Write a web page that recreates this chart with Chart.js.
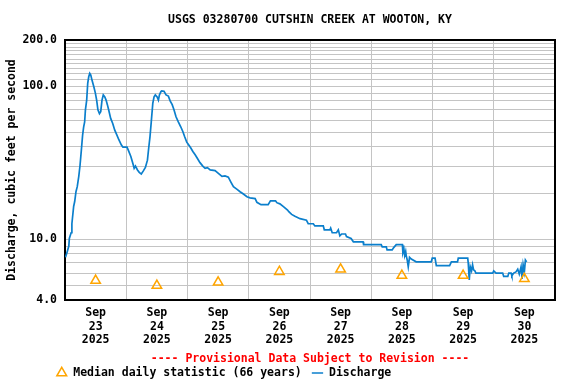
<!DOCTYPE html>
<html>
<head>
<meta charset="utf-8">
<script src="https://cdn.jsdelivr.net/npm/chart.js@4.4.1/dist/chart.umd.min.js"></script>
<style>
  html, body { margin: 0; padding: 0; background: #fff; }
  #wrap { width: 576px; height: 384px; }
</style>
</head>
<body>
<div id="wrap"><canvas id="chart" width="576" height="384"></canvas></div>
<script>
// hours since Sep 23 2025 00:00
const dischargeHours = [0.2, 0.9, 1.5, 1.7, 2.4, 2.7, 3.4, 3.8, 4.3, 4.8, 5.4, 5.9, 6.4, 6.9, 7.3, 7.7, 8.0, 8.5, 8.9, 9.3,
  9.7, 10.1, 10.6, 11.3, 11.9, 12.4, 12.9, 13.5, 14.0, 14.5, 15.0, 15.6, 16.1, 16.6, 17.1, 17.9, 18.7, 19.5, 20.3, 21.1,
  22.1, 22.7, 24.3, 25.0, 25.8, 26.6, 27.1, 27.6, 28.4, 29.1, 29.9, 30.7, 31.5, 32.3, 32.8, 33.3, 33.8, 34.4, 34.9, 35.4,
  36.1, 36.6, 37.0, 37.6, 37.9, 38.8, 39.6, 40.5, 41.2, 42.0, 42.7, 43.5, 44.4, 45.4, 46.2, 46.9, 47.7, 48.5, 49.3, 50.1,
  51.0, 51.9, 52.9, 54.0, 54.9, 55.8, 56.9, 58.8, 60.1, 61.5, 62.7, 64.0, 65.0, 66.0, 67.3, 68.6, 69.9, 71.3, 72.5, 74.5,
  75.2, 76.8, 79.6, 80.5, 82.5, 83.0, 84.2, 85.6, 87.2, 87.7, 88.8, 90.1, 92.1, 94.6, 95.3, 97.3, 97.9, 101.2, 101.6, 103.8,
  104.1, 104.7, 106.4, 107.1, 107.7, 108.4, 109.9, 110.3, 112.1, 113.0, 116.8, 117.0, 123.9, 124.3, 125.9, 126.2, 128.2, 128.8, 129.8, 132.2,
  132.4, 132.8, 133.1, 133.5, 133.7, 134.1, 134.5, 135.0, 135.7, 137.6, 143.5, 143.9, 145.0, 145.5, 150.7, 151.4, 153.8, 154.1, 157.8, 158.0,
  158.4, 158.8, 159.3, 159.7, 160.1, 160.6, 161.0, 167.6, 168.0, 168.9, 171.5, 171.9, 173.5, 173.9, 174.8, 175.1, 175.8, 176.7, 177.4, 178.0,
  178.7, 179.1, 179.5, 180.0, 180.4, 180.9];
const dischargeValues = [7.6, 8.3, 9.0, 10.1, 11, 12.6, 16.4, 17.6, 20.4, 22, 25.7, 30.5, 38, 47.8, 54, 58.4, 69.9, 81, 104, 115,
  121, 118, 109, 99, 90, 81, 70, 66, 68, 81, 87.5, 85, 81, 75.6, 70, 61.5, 57, 51.5, 48, 44.6,
  41.2, 39.9, 39.9, 37.4, 34.7, 31.2, 29, 30, 28.3, 27.3, 26.6, 27.9, 29.4, 32.8, 39.4, 46.6, 58.4, 77, 85, 87.5,
  85, 81, 87.5, 92, 93, 92.5, 87.5, 86, 80, 75.6, 70, 63, 58.4, 54, 50.3, 46.6, 43, 41.2, 39.4, 37.4,
  35.6, 33.6, 31.6, 30, 29, 29.3, 28.3, 28, 26.9, 25.7, 25.9, 25.4, 23.6, 22, 21.2, 20.4, 19.7, 18.9, 18.6, 18.4,
  17.4, 16.8, 16.8, 17.8, 17.8, 17.3, 17, 16.3, 15.5, 15.1, 14.5, 14.1, 13.6, 13.3, 12.6, 12.6, 12.2, 12.2, 11.5, 11.5,
  11.8, 11, 11, 11.5, 10.5, 10.8, 10.8, 10.4, 10.1, 9.6, 9.6, 9.2, 9.2, 8.9, 8.9, 8.5, 8.5, 8.8, 9.2, 9.2,
  8.15, 8.6, 7.8, 8.3, 7.8, 7.3, 6.6, 7.6, 7.4, 7.1, 7.1, 7.5, 7.5, 6.7, 6.7, 7.1, 7.1, 7.5, 7.5, 7.0,
  5.4, 6.6, 6.2, 6.8, 6.3, 6.2, 6.0, 6.0, 6.2, 6.0, 6.0, 5.7, 5.7, 6.0, 6.0, 5.75, 6.0, 6.1, 6.35, 5.9,
  6.6, 5.5, 6.8, 6.1, 7.3, 7.1];

const medianHours = [12, 36, 60, 84, 108, 132, 156, 180];
const medianValues = [5.36, 4.97, 5.22, 6.13, 6.35, 5.78, 5.78, 5.5];

const dayLabels = ['23', '24', '25', '26', '27', '28', '29', '30'];
const monthLabel = 'Sep';
const yearLabel = '2025';

const yGridValues = [4, 5, 6, 7, 8, 9, 10, 20, 30, 40, 50, 60, 70, 80, 90, 100,
  110, 120, 130, 140, 150, 160, 170, 180, 190, 200];
const yLabelValues = [4, 10, 100, 200];

const FONT = { family: "'DejaVu Sans Mono', 'Liberation Mono', monospace", size: 11.5, weight: 'bold' };
const GRID = '#c4c4c4';

// black frame round the plot area
const frame = {
  id: 'frame',
  beforeDatasetsDraw(chart) {
    const a = chart.chartArea, ctx = chart.ctx;
    ctx.save();
    ctx.strokeStyle = '#000';
    ctx.lineWidth = 2;
    ctx.strokeRect(a.left, a.top, a.right - a.left, a.bottom - a.top);
    ctx.restore();
  }
};

// move the legend in line with the original
const legendShift = {
  id: 'legendShift',
  afterLayout(chart) {
    if (chart.legend) chart.legend.left = 46;
  }
};

new Chart(document.getElementById('chart'), {
  type: 'line',
  data: {
    datasets: [
      {
        label: 'Median daily statistic (66 years)',
        data: medianHours.map((h, i) => ({ x: h, y: medianValues[i] })),
        showLine: false,
        pointStyle: 'triangle',
        pointRadius: 5.5,
        pointBorderWidth: 1.5,
        pointBorderColor: '#ffa500',
        pointBackgroundColor: 'rgba(0,0,0,0)',
        borderColor: '#ffa500',
        backgroundColor: 'rgba(0,0,0,0)'
      },
      {
        label: 'Discharge',
        data: dischargeHours.map((h, i) => ({ x: h, y: dischargeValues[i] })),
        borderColor: '#0b7fcc',
        backgroundColor: '#0b7fcc',
        borderWidth: 1.7,
        pointRadius: 0,
        pointStyle: 'line',
        pointBorderColor: '#0b7fcc',
        pointBorderWidth: 1.5,
        tension: 0,
        fill: false
      }
    ]
  },
  options: {
    responsive: false,
    animation: false,
    layout: { padding: { left: 0, right: 21, top: 0, bottom: -4.75 } },
    scales: {
      x: {
        type: 'linear',
        min: 0,
        max: 192,
        afterFit: (scale) => { scale.height = 46; },
        border: { display: false },
        grid: {
          drawTicks: false,
          lineWidth: 1,
          color: (ctx) => (ctx.tick && ctx.tick.value % 24 === 0 ? GRID : 'rgba(0,0,0,0)')
        },
        ticks: {
          stepSize: 12,
          autoSkip: false,
          maxRotation: 0,
          padding: 6,
          color: '#000',
          font: { ...FONT, lineHeight: 1.2 },
          callback: (value) => (value % 24 === 12 ? [monthLabel, dayLabels[(value - 12) / 24], yearLabel] : '')
        }
      },
      y: {
        type: 'logarithmic',
        min: 4,
        max: 200,
        afterFit: (scale) => { scale.width = 65; },
        afterBuildTicks: (scale) => { scale.ticks = yGridValues.map(v => ({ value: v })); },
        border: { display: false },
        grid: { drawTicks: false, color: GRID, lineWidth: 1 },
        ticks: {
          autoSkip: false,
          padding: 8,
          color: '#000',
          font: FONT,
          callback: (value) => (yLabelValues.includes(value) ? value.toFixed(1) : '')
        },
        title: {
          display: true,
          text: 'Discharge, cubic feet per second',
          color: '#000',
          font: FONT,
          padding: { top: 5, bottom: 0 }
        }
      }
    },
    plugins: {
      title: {
        display: true,
        text: 'USGS 03280700 CUTSHIN CREEK AT WOOTON, KY',
        color: '#000',
        font: FONT,
        fullSize: false,
        padding: { top: 13, bottom: 13.2 }
      },
      subtitle: {
        display: true,
        position: 'bottom',
        text: '---- Provisional Data Subject to Revision ----',
        color: '#ff0000',
        font: FONT,
        fullSize: false,
        weight: 500,
        padding: { top: 6, bottom: -8.55 }
      },
      legend: {
        position: 'bottom',
        align: 'start',
        labels: {
          usePointStyle: true,
          boxWidth: 14,
          boxHeight: 8,
          padding: 10,
          color: '#000',
          font: FONT
        }
      },
      tooltip: { enabled: false }
    }
  },
  plugins: [frame, legendShift]
});
</script>
</body>
</html>
